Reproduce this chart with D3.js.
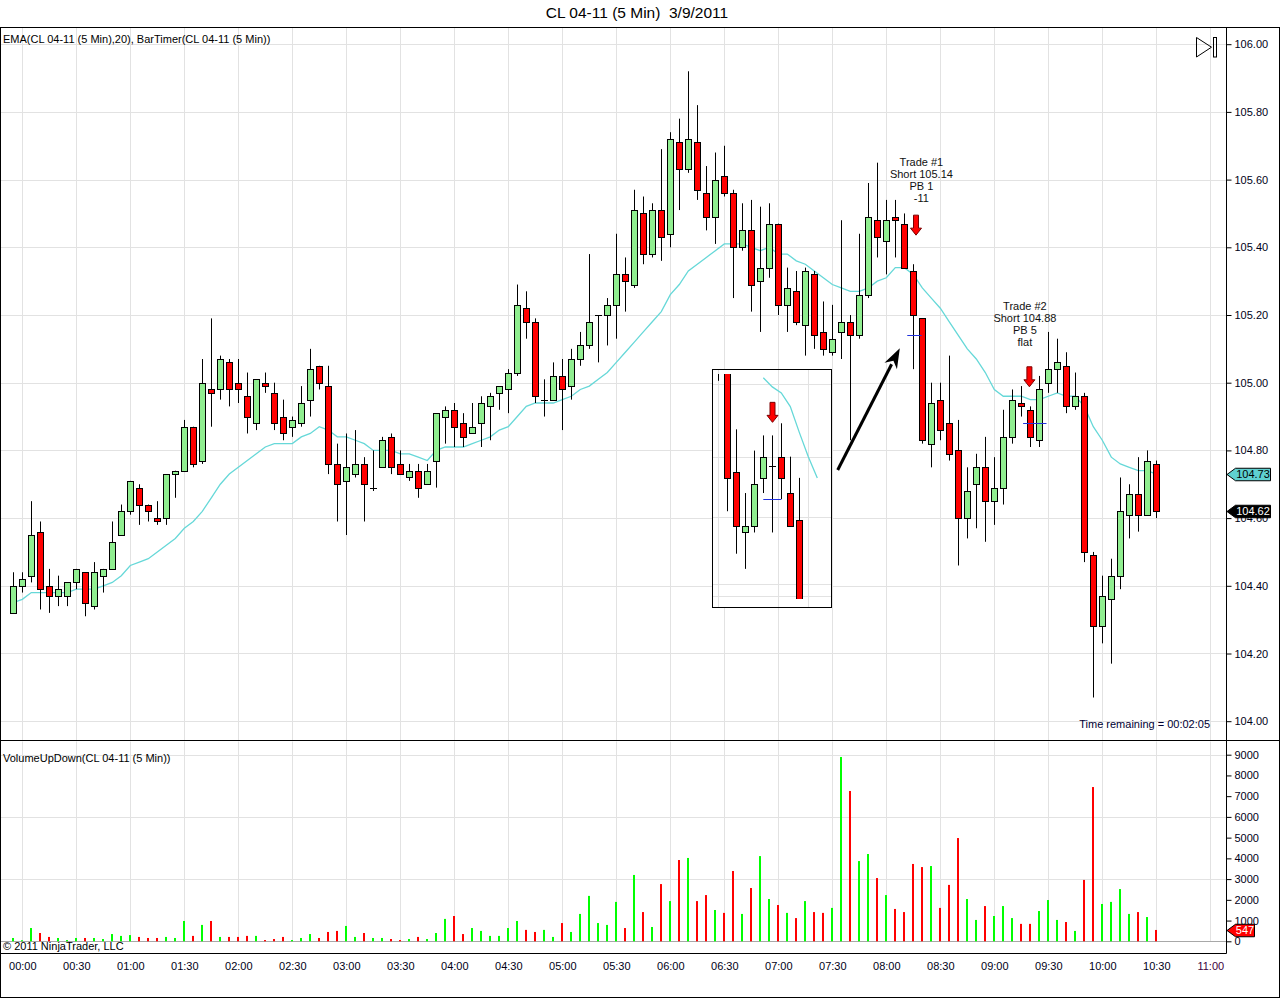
<!DOCTYPE html>
<html><head><meta charset="utf-8">
<script src="https://cdn.jsdelivr.net/npm/d3@7"></script>
<style>
body{margin:0;background:#fff}
svg{display:block}
text{font-family:"Liberation Sans",Arial,sans-serif;fill:#000}
</style></head>
<body><svg id="c" width="1280" height="999"></svg>
<script>
// ---------- DATA ----------
const barTimes = d3.timeMinute.range(new Date(2011,2,8,23,55), new Date(2011,2,9,10,35), 5);
const opens = [104.32,104.40,104.43,104.56,104.40,104.37,104.37,104.41,104.44,104.34,104.43,104.45,104.55,104.62,104.69,104.64,104.60,104.60,104.73,104.74,
104.87,104.77,104.98,104.98,105.06,105.00,104.96,104.88,105.00,104.97,104.90,104.87,104.88,104.95,105.05,104.99,104.76,104.71,104.73,104.76,
104.69,104.75,104.84,104.76,104.72,104.74,104.70,104.77,104.90,104.92,104.88,104.85,104.88,104.93,104.97,104.98,105.03,105.22,105.18,104.95,
104.95,105.02,104.99,105.07,105.11,105.20,105.20,105.23,105.32,105.29,105.50,105.38,105.51,105.44,105.71,105.63,105.71,105.56,105.49,105.61,
105.56,105.40,105.45,105.30,105.34,105.47,105.23,105.27,105.17,105.32,105.15,105.09,105.15,105.18,105.14,105.26,105.48,105.42,105.49,105.47,
105.33,105.19,104.82,104.95,104.88,104.80,104.60,104.70,104.75,104.65,104.69,104.84,104.94,104.92,104.83,105.00,105.04,105.05,104.93,104.96,
104.49,104.28,104.36,104.43,104.61,104.67,104.61,104.76];
const highs = [104.44,104.44,104.65,104.59,104.45,104.43,104.41,104.45,104.44,104.47,104.45,104.59,104.64,104.71,104.70,104.64,104.65,104.73,104.74,104.89,
104.87,105.07,105.19,105.08,105.07,105.07,105.03,105.01,105.03,105.00,104.95,104.90,104.99,105.10,105.05,105.05,104.82,104.85,104.86,104.78,
104.80,104.84,104.85,104.80,104.76,104.76,104.76,104.91,104.93,104.94,104.91,104.94,104.96,104.97,104.99,105.04,105.29,105.27,105.19,105.01,
105.06,105.07,105.10,105.15,105.38,105.20,105.25,105.44,105.37,105.57,105.55,105.53,105.69,105.74,105.78,105.92,105.82,105.64,105.68,105.70,
105.57,105.53,105.54,105.52,105.53,105.47,105.34,105.33,105.34,105.33,105.24,105.23,105.48,105.20,105.44,105.59,105.65,105.54,105.54,105.50,
105.35,105.19,105.00,105.00,105.08,104.89,104.75,104.79,104.84,104.78,104.92,104.98,104.99,104.93,105.02,105.15,105.13,105.09,105.03,104.97,
104.50,104.43,104.48,104.72,104.70,104.78,104.80,104.77];
const lows = [104.32,104.38,104.41,104.33,104.32,104.34,104.34,104.39,104.31,104.33,104.38,104.45,104.55,104.61,104.58,104.59,104.58,104.58,104.66,104.74,
104.75,104.76,104.87,104.95,104.93,104.94,104.85,104.86,104.97,104.86,104.83,104.84,104.87,104.90,104.98,104.73,104.59,104.55,104.72,104.59,
104.68,104.75,104.73,104.73,104.71,104.66,104.70,104.69,104.82,104.81,104.81,104.85,104.81,104.83,104.92,104.91,105.02,105.13,104.94,104.90,
104.95,104.86,104.95,105.05,105.10,105.06,105.11,105.13,105.21,105.28,105.35,105.37,105.36,105.40,105.51,105.62,105.54,105.45,105.41,105.55,
105.25,105.39,105.21,105.15,105.31,105.20,105.15,105.17,105.08,105.10,105.08,105.08,105.07,104.83,105.13,105.25,105.37,105.32,105.37,105.34,
105.04,104.82,104.75,104.83,104.77,104.46,104.54,104.57,104.53,104.58,104.64,104.82,104.90,104.81,104.81,104.97,104.97,104.91,104.92,104.47,
104.07,104.23,104.17,104.39,104.54,104.56,104.61,104.60];
const closes = [104.40,104.42,104.55,104.39,104.37,104.39,104.41,104.45,104.35,104.44,104.45,104.53,104.62,104.71,104.64,104.62,104.59,104.73,104.74,104.87,
104.76,105.00,104.97,105.07,104.98,104.98,104.90,105.01,104.99,104.88,104.85,104.89,104.94,105.04,105.00,104.76,104.70,104.75,104.76,104.70,
104.69,104.83,104.75,104.73,104.74,104.69,104.74,104.91,104.92,104.87,104.84,104.87,104.94,104.96,104.99,105.03,105.23,105.18,104.96,104.95,
105.02,104.98,105.07,105.11,105.18,105.20,105.23,105.32,105.30,105.51,105.38,105.51,105.43,105.72,105.63,105.72,105.57,105.49,105.60,105.56,
105.40,105.45,105.29,105.34,105.47,105.23,105.28,105.18,105.33,105.14,105.10,105.13,105.18,105.14,105.26,105.49,105.43,105.48,105.48,105.34,
105.20,104.83,104.94,104.86,104.79,104.60,104.68,104.75,104.65,104.69,104.84,104.95,104.93,104.84,104.98,105.04,105.06,104.93,104.96,104.50,
104.28,104.37,104.43,104.62,104.67,104.61,104.77,104.62];
const volumes = [160,50,640,400,210,160,60,160,160,160,110,350,260,300,210,160,160,210,160,980,
260,790,980,210,210,210,260,260,60,110,210,60,160,350,160,450,500,740,210,400,
160,160,110,60,110,210,110,400,1080,1220,350,640,500,260,260,640,980,550,450,550,
210,880,450,1320,2190,880,790,1900,640,3200,1410,690,2760,1940,3920,4020,1940,2230,1510,1370,
3390,1320,2570,4110,2040,1750,1370,1120,1940,1410,1370,1610,8890,7250,3870,4210,3050,2230,1560,1410,
3730,3580,3630,1610,2720,4980,2040,1030,1700,1220,1700,1120,840,840,1460,1990,1030,930,500,2960,
7440,1800,1900,2520,1320,1410,1170,547];
const ema20 = [104.35,104.36,104.38,104.38,104.38,104.38,104.38,104.39,104.39,104.39,104.40,104.41,104.43,104.46,104.47,104.48,104.50,104.52,104.54,104.57,
104.59,104.62,104.66,104.70,104.73,104.75,104.77,104.79,104.81,104.82,104.82,104.82,104.84,104.85,104.87,104.86,104.84,104.84,104.83,104.82,
104.80,104.80,104.80,104.79,104.79,104.78,104.77,104.80,104.81,104.81,104.81,104.82,104.83,104.84,104.86,104.87,104.90,104.93,104.94,104.94,
104.94,104.95,104.96,104.98,104.99,105.01,105.03,105.06,105.09,105.12,105.15,105.18,105.21,105.26,105.29,105.33,105.35,105.37,105.39,105.41,
105.41,105.41,105.40,105.39,105.40,105.38,105.38,105.36,105.35,105.33,105.31,105.29,105.28,105.27,105.27,105.28,105.30,105.31,105.34,105.34,
105.32,105.28,105.25,105.22,105.18,105.14,105.10,105.07,105.03,104.98,104.96,104.96,104.96,104.95,104.95,104.96,104.97,104.96,104.96,104.93,
104.87,104.83,104.78,104.76,104.75,104.74,104.74,104.73];
const priceTicks = [104.00,104.20,104.40,104.60,104.80,105.00,105.20,105.40,105.60,105.80,106.00];
const volumeTicks = [0,1000,2000,3000,4000,5000,6000,7000,8000,9000];
const volumeGrid = [3000,6000,9000];
const lastPrice = 104.62, lastEma = 104.73, lastVolume = 547;

const trades = [
  {lines:["Trade #1","Short 105.14","PB 1","-11"], textBar:100.9, textPrice:105.648, arrowBar:100.3, arrowPrice:105.495, entry:105.14, entryFrom:99.33, entryTo:100.93},
  {lines:["Trade #2","Short 104.88","PB 5","flat"], textBar:112.4, textPrice:105.2245, arrowBar:112.9, arrowPrice:105.047, entry:104.88, entryFrom:112.2, entryTo:114.8}
];
const bigArrow = {fromBar:91.6, fromPrice:104.742, toBar:98.5, toPrice:105.102};

// inset snapshot (its own local scale)
const insetOpen  = [105.45,105.30,104.95,104.75,104.77,104.93,104.97,105.00,104.88,104.79];
const insetHigh  = [105.45,105.30,105.09,104.88,105.02,105.07,105.07,105.11,105.00,104.93];
const insetLow   = [105.25,104.82,104.68,104.63,104.75,104.88,104.75,104.86,104.77,104.40];
const insetClose = [105.40,104.93,104.77,104.77,104.91,105.00,104.97,104.93,104.77,104.40];
const insetEmaIdx = [5,6,7,8,9,10,11];
const insetEma = [105.26,105.23,105.21,105.165,105.08,105.00,104.93];
const insetGrid = [105.24,105.00,104.80,104.58,104.54];
const insetArrow = {idx:6, price:105.179};
const insetEntry = {price:104.86, from:5, to:7};

// ---------- LAYOUT ----------
const svg = d3.select("#c");
const AX = 1226.5, PT = 27.5, PB = 740.5, VB = 953.5;
const GRID = "#e2e2e2";
const x = d3.scaleTime().domain([new Date(2011,2,9,0,0), new Date(2011,2,9,11,0)]).range([22.3, 1210.3]);
const yP = d3.scaleLinear().domain([104, 106]).range([721.2, 44.2]);
const yV = d3.scaleLinear().domain([0, 9000]).range([941.3, 754.7]);
const step = x(barTimes[1]) - x(barTimes[0]);
const barX = b => x(barTimes[0]) + b * step;
const cxOf = i => Math.floor(x(barTimes[i])) + 0.5;
const crisp = v => Math.round(v) + 0.5;
const halfTicks = x.ticks(d3.timeMinute.every(30));

svg.append("rect").attr("width",1280).attr("height",999).attr("fill","#fff");

// grids
const g = svg.append("g");
g.selectAll(".hg").data(priceTicks).join("line")
  .attr("x1",0).attr("x2",AX).attr("y1",d=>crisp(yP(d))).attr("y2",d=>crisp(yP(d)))
  .attr("stroke",GRID);
g.selectAll(".vg").data(halfTicks).join("line")
  .attr("x1",d=>Math.floor(x(d))+0.5).attr("x2",d=>Math.floor(x(d))+0.5)
  .attr("y1",PT).attr("y2",PB).attr("stroke",GRID);
g.selectAll(".vg2").data(halfTicks).join("line")
  .attr("x1",d=>Math.floor(x(d))+0.5).attr("x2",d=>Math.floor(x(d))+0.5)
  .attr("y1",PB+1).attr("y2",yV(0)).attr("stroke",GRID);
g.selectAll(".vhg").data(volumeGrid).join("line")
  .attr("x1",0).attr("x2",AX).attr("y1",d=>crisp(yV(d))).attr("y2",d=>crisp(yV(d)))
  .attr("stroke",GRID);
g.append("line").attr("x1",0).attr("x2",AX).attr("y1",crisp(yV(0))).attr("y2",crisp(yV(0))).attr("stroke","#a8a8a8");

// EMA
svg.append("path").datum(ema20)
  .attr("d", d3.line().x((d,i)=>x(barTimes[i])).y(d=>yP(d)))
  .attr("fill","none").attr("stroke","#66d8d8").attr("stroke-width",1.3);

// candles
const idx = d3.range(closes.length);
const cg = svg.append("g");
cg.selectAll(".wick").data(idx).join("line")
  .attr("x1",cxOf).attr("x2",cxOf)
  .attr("y1",i=>yP(highs[i])).attr("y2",i=>yP(lows[i]))
  .attr("stroke","#000").attr("stroke-width",1);
cg.selectAll(".body").data(idx.filter(i=>opens[i]!==closes[i])).join("rect")
  .attr("x",i=>cxOf(i)-3).attr("width",6)
  .attr("y",i=>crisp(yP(Math.max(opens[i],closes[i]))))
  .attr("height",i=>Math.max(1,Math.round(yP(Math.min(opens[i],closes[i])))-Math.round(yP(Math.max(opens[i],closes[i])))))
  .attr("fill",i=>closes[i]>opens[i]?"#90ee90":"#ff0000")
  .attr("stroke","#000").attr("stroke-width",1);
cg.selectAll(".doji").data(idx.filter(i=>opens[i]===closes[i])).join("line")
  .attr("x1",i=>cxOf(i)-3.5).attr("x2",i=>cxOf(i)+3.5)
  .attr("y1",i=>crisp(yP(closes[i]))).attr("y2",i=>crisp(yP(closes[i])))
  .attr("stroke","#000");

// volume bars
svg.append("g").selectAll("rect").data(idx).join("rect")
  .attr("x",i=>Math.floor(x(barTimes[i]))-1).attr("width",2)
  .attr("y",i=>yV(volumes[i])).attr("height",i=>yV(0)-yV(volumes[i]))
  .attr("fill",i=>closes[i]>=opens[i]?"#00ff00":"#ff0000");

// down arrow helper
function downArrow(sel, cx, top){
  sel.append("path")
    .attr("d",`M${cx-2.5},${top}L${cx+2.5},${top}L${cx+2.5},${top+13}L${cx+5.5},${top+13}L${cx},${top+20}L${cx-5.5},${top+13}L${cx-2.5},${top+13}Z`)
    .attr("fill","#ff0000").attr("stroke","#7a0000").attr("stroke-width",1);
}

// trade annotations
const ag = svg.append("g");
trades.forEach(t=>{
  t.lines.forEach((s,j)=>{
    ag.append("text").attr("x",barX(t.textBar)).attr("y",yP(t.textPrice)+j*12)
      .attr("text-anchor","middle").attr("dominant-baseline","middle")
      .attr("font-size","11px").style("fill","#111").text(s);
  });
  downArrow(ag, barX(t.arrowBar), yP(t.arrowPrice));
  ag.append("line").attr("x1",barX(t.entryFrom)).attr("x2",barX(t.entryTo))
    .attr("y1",crisp(yP(t.entry))).attr("y2",crisp(yP(t.entry)))
    .attr("stroke","#2233dd").attr("stroke-width",1);
});

// big black arrow
{
  const x1 = barX(bigArrow.fromBar), y1 = yP(bigArrow.fromPrice);
  const x2 = barX(bigArrow.toBar), y2 = yP(bigArrow.toPrice);
  const ang = Math.atan2(y2-y1, x2-x1), L = 20, Wd = 7;
  const bx = x2 - L*Math.cos(ang), by = y2 - L*Math.sin(ang);
  ag.append("line").attr("x1",x1).attr("y1",y1).attr("x2",bx+2*Math.cos(ang)).attr("y2",by+2*Math.sin(ang))
    .attr("stroke","#000").attr("stroke-width",3);
  ag.append("path").attr("d",`M${x2},${y2}L${bx - Wd*Math.sin(ang)},${by + Wd*Math.cos(ang)}L${bx + 6*Math.cos(ang)},${by + 6*Math.sin(ang)}L${bx + Wd*Math.sin(ang)},${by - Wd*Math.cos(ang)}Z`)
    .attr("fill","#000");
}

// inset snapshot
{
  const ig = svg.append("g");
  const bx0 = 712.5, by0 = 369.5, bw = 119, bh = 238;
  const xi = d3.scaleLinear().domain([0,9]).range([718.3,799.3]);
  const yi = d3.scaleLinear().domain([104.5,105.5]).range([608.3,305.0]);
  const icx = j => Math.floor(xi(j))+0.5;
  svg.append("clipPath").attr("id","ic").append("rect").attr("x",bx0).attr("y",374).attr("width",bw).attr("height",225);
  ig.append("rect").attr("x",bx0).attr("y",by0).attr("width",bw).attr("height",bh).attr("fill","#fff");
  ig.selectAll(".ihg").data(insetGrid).join("line")
    .attr("x1",bx0).attr("x2",bx0+bw).attr("y1",d=>crisp(yi(d))).attr("y2",d=>crisp(yi(d))).attr("stroke",GRID);
  ig.selectAll(".ivg").data([718.3,778.3,808.3]).join("line")
    .attr("x1",d=>Math.floor(d)+0.5).attr("x2",d=>Math.floor(d)+0.5).attr("y1",by0).attr("y2",by0+bh).attr("stroke",GRID);
  const inner = ig.append("g").attr("clip-path","url(#ic)");
  inner.append("path").datum(insetEma)
    .attr("d", d3.line().x((d,k)=>xi(insetEmaIdx[k])).y(d=>yi(d)))
    .attr("fill","none").attr("stroke","#66d8d8").attr("stroke-width",1.3);
  const jj = d3.range(insetClose.length);
  inner.selectAll(".iw").data(jj).join("line")
    .attr("x1",icx).attr("x2",icx).attr("y1",j=>yi(insetHigh[j])).attr("y2",j=>yi(insetLow[j])).attr("stroke","#000");
  inner.selectAll(".ib").data(jj.filter(j=>insetOpen[j]!==insetClose[j])).join("rect")
    .attr("x",j=>icx(j)-3).attr("width",6)
    .attr("y",j=>crisp(yi(Math.max(insetOpen[j],insetClose[j]))))
    .attr("height",j=>Math.max(1,Math.round(yi(Math.min(insetOpen[j],insetClose[j])))-Math.round(yi(Math.max(insetOpen[j],insetClose[j])))))
    .attr("fill",j=>insetClose[j]>insetOpen[j]?"#90ee90":"#ff0000").attr("stroke","#000");
  inner.selectAll(".id").data(jj.filter(j=>insetOpen[j]===insetClose[j])).join("line")
    .attr("x1",j=>icx(j)-3.5).attr("x2",j=>icx(j)+3.5)
    .attr("y1",j=>crisp(yi(insetClose[j]))).attr("y2",j=>crisp(yi(insetClose[j]))).attr("stroke","#000");
  inner.append("line").attr("x1",xi(insetEntry.from)).attr("x2",xi(insetEntry.to))
    .attr("y1",crisp(yi(insetEntry.price))).attr("y2",crisp(yi(insetEntry.price))).attr("stroke","#2233dd");
  downArrow(inner, icx(insetArrow.idx), yi(insetArrow.price));
  ig.append("rect").attr("x",bx0).attr("y",by0).attr("width",bw).attr("height",bh)
    .attr("fill","none").attr("stroke","#000").attr("stroke-width",1);
}

// frame lines
const fr = svg.append("g").attr("stroke","#000").attr("stroke-width",1);
fr.append("rect").attr("x",0.5).attr("y",PT).attr("width",1279).attr("height",997.5-PT).attr("fill","none");
fr.append("line").attr("x1",0).attr("x2",1280).attr("y1",PB).attr("y2",PB);
fr.append("line").attr("x1",0).attr("x2",AX).attr("y1",VB).attr("y2",VB);
fr.append("line").attr("x1",AX).attr("x2",AX).attr("y1",PT).attr("y2",VB);

// axes
const pa = svg.append("g").attr("transform",`translate(${AX},0)`)
  .call(d3.axisRight(yP).tickValues(priceTicks).tickFormat(d3.format(".2f")).tickSize(5).tickPadding(3));
const va = svg.append("g").attr("transform",`translate(${AX},0)`)
  .call(d3.axisRight(yV).tickValues(volumeTicks).tickFormat(d3.format("d")).tickSize(5).tickPadding(3));
const ta = svg.append("g").attr("transform",`translate(0,${VB})`)
  .call(d3.axisBottom(x).ticks(d3.timeMinute.every(30)).tickFormat(d3.timeFormat("%H:%M")).tickSize(0).tickPadding(9));
[pa,va,ta].forEach(a=>{
  a.select(".domain").remove();
  a.selectAll("text").attr("font-size","11px").attr("font-family","Liberation Sans, Arial, sans-serif").style("fill","#000018");
  a.selectAll("line").attr("stroke","#000");
});
ta.selectAll("text").filter(d=>d.getHours()===11).style("fill","#400040");

// value tags
function tag(yv, label, fill, txt, w){
  const yy = Math.round(yv)+0.5, h = 12.5, x0 = AX+0.5, x1 = AX+9;
  svg.append("path").attr("d",`M${x0},${yy}L${x1},${yy-h/2}L${x1+w},${yy-h/2}L${x1+w},${yy+h/2}L${x1},${yy+h/2}Z`)
    .attr("fill",fill).attr("stroke","#000").attr("stroke-width",1);
  svg.append("text").attr("x",x1+w/2).attr("y",yy+0.5).attr("text-anchor","middle").attr("dominant-baseline","middle")
    .attr("font-size","11px").style("fill",txt).text(label);
}
tag(yP(lastEma), d3.format(".2f")(lastEma), "#5fd0d0", "#000", 35);
tag(yP(lastPrice), d3.format(".2f")(lastPrice), "#000", "#fff", 35);
tag(yV(lastVolume), String(lastVolume), "#ff0000", "#fff", 19);

// texts
svg.append("text").attr("x",637).attr("y",14).attr("text-anchor","middle").attr("dominant-baseline","middle")
  .attr("font-size","15.5px").attr("xml:space","preserve").style("white-space","pre")
  .text("CL 04-11 (5 Min)  3/9/2011");
svg.append("text").attr("x",3).attr("y",40).attr("dominant-baseline","middle").attr("font-size","11px")
  .text("EMA(CL 04-11 (5 Min),20), BarTimer(CL 04-11 (5 Min))");
svg.append("text").attr("x",3).attr("y",759).attr("dominant-baseline","middle").attr("font-size","11px")
  .text("VolumeUpDown(CL 04-11 (5 Min))");
svg.append("text").attr("x",3).attr("y",947.5).attr("dominant-baseline","middle").attr("font-size","11px")
  .text("© 2011 NinjaTrader, LLC");
svg.append("text").attr("x",1210).attr("y",725).attr("text-anchor","end").attr("dominant-baseline","middle").attr("font-size","11px")
  .style("fill","#000033").text("Time remaining = 00:02:05");

// play-to-end icon
svg.append("path").attr("d","M1196.5,37.5L1196.5,57L1211.5,47.2Z").attr("fill","none").attr("stroke","#000");
svg.append("rect").attr("x",1213.5).attr("y",37.5).attr("width",3).attr("height",19.5).attr("fill","none").attr("stroke","#000");
</script>
</body></html>
